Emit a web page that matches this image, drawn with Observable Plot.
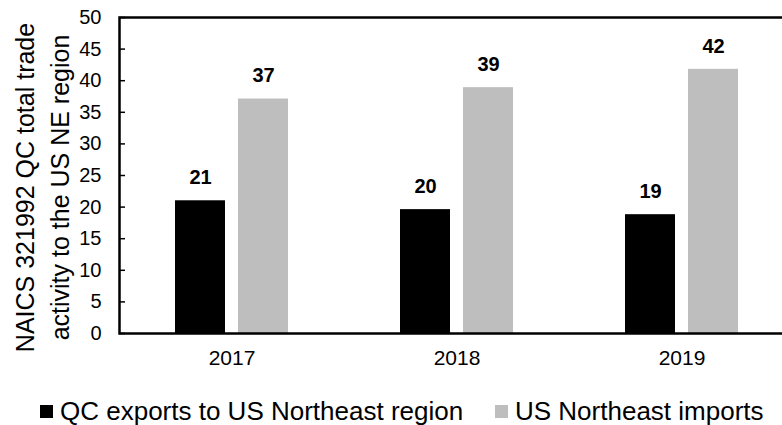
<!DOCTYPE html>
<html>
<head>
<meta charset="utf-8">
<script src="https://cdn.jsdelivr.net/npm/d3@7"></script>
<script src="https://cdn.jsdelivr.net/npm/@observablehq/plot@0.6"></script>
<style>
  html, body { margin: 0; padding: 0; background: #fff; }
  body { width: 782px; height: 425px; position: relative; overflow: hidden; font-family: "Liberation Sans", Arial, sans-serif; }
  .sw { position: absolute; width: 13px; height: 13px; }
  .lt { position: absolute; font-size: 26px; line-height: 26px; color: #000; white-space: nowrap; }
</style>
</head>
<body>
<div id="chart"></div>
<script>
const years = ["2017", "2018", "2019"];
const seriesNames = ["QC exports to US Northeast region", "US Northeast imports"];
const qcExports = [21.0, 19.6, 18.8];
const usImports = [37.1, 38.9, 41.8];
const yTicks = [0, 5, 10, 15, 20, 25, 30, 35, 40, 45, 50];
const colors = ["#000000", "#bebebe"];
const yTitle = "NAICS 321992 QC total trade\nactivity to the US NE region";

const data = [];
years.forEach((y, i) => {
  data.push({year: y, series: seriesNames[0], value: qcExports[i]});
  data.push({year: y, series: seriesNames[1], value: usImports[i]});
});

const H = 375;
const chart = Plot.plot({
  width: 782,
  height: H,
  marginLeft: 119,
  marginRight: -12,
  marginTop: 17,
  marginBottom: H - 333,
  style: {fontFamily: "'Liberation Sans', Arial, sans-serif", fontSize: "20px", color: "#000", background: "#fff", overflow: "visible"},
  fx: {domain: years, padding: 0, label: null, axis: null},
  x: {domain: seriesNames, paddingInner: 0.2, paddingOuter: 0.86, axis: null},
  y: {domain: [0, 50], axis: null},
  color: {domain: seriesNames, range: colors},
  marks: [
    Plot.barY(data, {fx: "year", x: "series", y: "value", fill: "series"}),
    Plot.text(data, {fx: "year", x: "series", y: "value", text: d => String(Math.round(d.value)), dy: -23, fontWeight: "bold", fontSize: 20, fill: "#000"}),
    Plot.axisFx({anchor: "bottom", tickSize: 0, tickPadding: 17, fontSize: 21, label: null}),
    Plot.axisY({ticks: yTicks, tickSize: 0, tickPadding: 18, fontSize: 20, label: null}),
    Plot.ruleY(yTicks, {fx: () => years[0], y: d => d, stroke: "#000", strokeWidth: 1.5, insetRight: 225 - 6}),
    Plot.frame({facet: "super", stroke: "#000", strokeWidth: 2.5}),
    Plot.text([yTitle], {facet: "super", frameAnchor: "left", textAnchor: "middle", lineAnchor: "middle", rotate: -90, lineHeight: 1.4, fontSize: 25, dx: -79, dy: 12, fill: "#000"})
  ]
});
document.getElementById("chart").appendChild(chart);

// legend
const legendItems = [
  {sw: 40, tx: 60},
  {sw: 495, tx: 515}
];
seriesNames.forEach((name, i) => {
  const s = document.createElement("div");
  s.className = "sw";
  s.style.left = legendItems[i].sw + "px";
  s.style.top = "405px";
  s.style.background = colors[i];
  document.body.appendChild(s);
  const t = document.createElement("div");
  t.className = "lt";
  t.style.left = legendItems[i].tx + "px";
  t.style.top = "398px";
  t.textContent = name;
  document.body.appendChild(t);
});
</script>
</body>
</html>
